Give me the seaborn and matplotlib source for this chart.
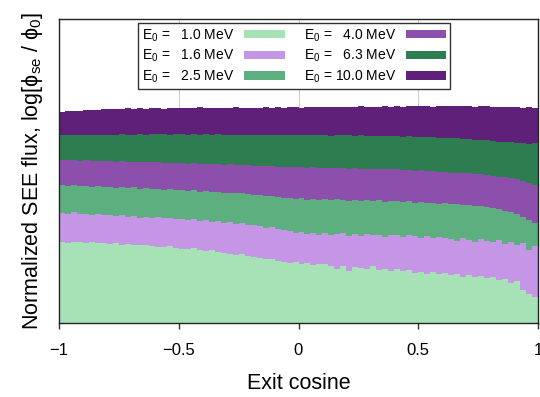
import numpy as np
import pandas as pd
import seaborn as sns
import matplotlib
matplotlib.use("Agg")
import matplotlib.pyplot as plt
from matplotlib.patches import Patch

sns.set_theme(style="ticks")
plt.rcParams['font.family'] = ['Liberation Sans', 'DejaVu Sans']
plt.rcParams['mathtext.fontset'] = 'custom'
plt.rcParams['mathtext.rm'] = 'Liberation Sans'
plt.rcParams['mathtext.it'] = 'Liberation Sans:italic'
plt.rcParams['text.color'] = 'black'
plt.rcParams['axes.labelcolor'] = 'black'
plt.rcParams['xtick.color'] = 'black'
plt.rcParams['ytick.color'] = 'black'

# ---- data ----
energies = ["1.0", "1.6", "2.5", "4.0", "6.3", "10.0"]
colors = ["#a7e2b6", "#c696e6", "#5eaf7f", "#8c4fab", "#2e7d50", "#5e2079"]
n_bins = 80

flux_1_0 = [2.66,2.64,2.67,2.65,2.63,2.66,2.64,2.62,
            2.60,2.63,2.58,2.61,2.57,2.55,2.58,2.53,
            2.51,2.49,2.52,2.47,
            2.45,2.43,2.46,2.40,2.37,2.41,2.33,2.30,2.28,
            2.24,2.27,2.20,2.17,
            2.13,2.09,2.12,2.03,2.00,
            1.97,2.00,1.93,1.97,1.90,1.94,1.95,1.88,1.79,
            1.86,1.70,1.84,1.80,1.77,1.88,1.74,1.79,1.72,
            1.76,1.70,1.73,1.64,1.69,1.62,1.67,1.60,
            1.64,1.57,1.62,1.52,1.58,1.50,1.55,1.48,
            1.52,1.40,1.46,1.30,1.38,
            1.10,0.95,0.85]
flux_1_6 = [3.62,3.58,3.64,3.57,3.60,3.55,3.58,3.54,
            3.56,3.51,3.54,3.49,3.52,3.47,3.50,3.46,
            3.48,3.44,3.46,3.42,
            3.43,3.39,3.41,3.36,3.38,3.33,3.35,3.30,3.32,
            3.27,3.29,3.24,3.22,
            3.18,3.14,3.16,3.09,3.06,
            3.02,2.95,3.00,2.92,2.97,2.90,2.95,2.88,2.93,
            2.96,2.87,2.92,2.85,2.94,2.88,2.91,2.84,2.90,
            2.88,2.82,2.90,2.85,2.80,2.87,2.78,2.84,
            2.81,2.76,2.70,2.79,2.74,2.68,2.75,2.71,
            2.66,2.72,2.60,2.68,2.55,
            2.64,2.40,2.52]
flux_2_5 = [4.54,4.52,4.55,4.50,4.51,4.48,4.50,4.47,
            4.48,4.45,4.47,4.44,4.46,4.42,4.45,4.41,
            4.42,4.39,4.40,4.37,
            4.36,4.34,4.36,4.32,4.33,4.30,4.31,4.28,4.29,
            4.26,4.27,4.24,4.22,
            4.20,4.17,4.18,4.14,4.12,
            4.10,4.08,4.11,4.06,4.09,4.05,4.08,4.04,4.07,
            4.05,4.02,4.06,4.01,4.04,4.00,4.03,3.99,4.02,
            4.00,3.97,4.00,3.95,3.98,3.94,3.96,3.93,
            3.94,3.90,3.92,3.87,3.89,3.84,3.86,3.81,
            3.78,3.74,3.70,3.64,3.58,
            3.48,3.40,3.30]
flux_4_0 = [5.36,5.35,5.37,5.34,5.35,5.33,5.34,5.33,
            5.33,5.31,5.32,5.30,5.31,5.29,5.30,5.28,
            5.28,5.27,5.27,5.25,
            5.26,5.24,5.25,5.23,5.24,5.22,5.23,5.21,5.22,
            5.20,5.21,5.19,5.18,
            5.17,5.16,5.17,5.14,5.14,
            5.13,5.12,5.13,5.11,5.12,5.10,5.11,5.09,5.10,
            5.10,5.08,5.09,5.07,5.08,5.06,5.07,5.05,5.06,
            5.05,5.03,5.04,5.01,5.02,4.99,5.00,4.98,
            4.97,4.95,4.95,4.92,4.92,4.89,4.89,4.86,
            4.85,4.81,4.80,4.76,4.73,
            4.68,4.62,4.54]
flux_6_3 = [6.18,6.19,6.17,6.19,6.18,6.20,6.18,6.19,
            6.20,6.19,6.21,6.19,6.20,6.22,6.20,6.21,
            6.21,6.22,6.20,6.22,
            6.21,6.20,6.22,6.20,6.21,6.19,6.21,6.20,6.19,
            6.20,6.18,6.20,6.19,
            6.18,6.20,6.18,6.19,6.17,
            6.18,6.19,6.17,6.18,6.19,6.17,6.18,6.16,6.18,
            6.17,6.18,6.16,6.17,6.15,6.16,6.15,6.16,6.14,
            6.15,6.13,6.14,6.12,6.13,6.11,6.12,6.10,
            6.10,6.08,6.08,6.05,6.06,6.03,6.03,6.01,
            6.00,5.97,5.96,5.94,5.93,
            5.92,5.90,5.91]
flux_10_0 = [6.95,6.96,6.98,6.97,7.00,7.02,7.01,7.04,
             7.03,7.05,7.04,7.06,7.05,7.07,7.05,7.06,
             7.07,7.05,7.08,7.06,
             7.07,7.08,7.06,7.09,7.07,7.08,7.06,7.08,7.07,
             7.09,7.07,7.08,7.07,
             7.08,7.10,7.08,7.09,7.07,
             7.09,7.10,7.08,7.11,7.09,7.10,7.12,7.09,7.11,
             7.10,7.12,7.10,7.13,7.11,7.12,7.10,7.13,7.12,
             7.14,7.12,7.13,7.15,7.13,7.14,7.12,7.15,
             7.13,7.14,7.15,7.13,7.14,7.12,7.13,7.14,
             7.12,7.11,7.12,7.10,7.11,
             7.08,7.09,7.06]

series = [flux_1_0, flux_1_6, flux_2_5, flux_4_0, flux_6_3, flux_10_0]
xticks = [-1, -0.5, 0, 0.5, 1]
xticklabels = ["\u22121", "\u22120.5", "0", "0.5", "1"]

bin_edges = np.linspace(-1, 1, n_bins + 1)
centers = 0.5 * (bin_edges[:-1] + bin_edges[1:])

fig = plt.figure(figsize=(5.4, 3.97), dpi=100)
ax = fig.add_axes([59/540, 1 - 323/397, 479/540, 304/397])

# draw from highest energy (largest) to lowest so every layer stays visible
for e, vals, c in reversed(list(zip(energies, series, colors))):
    df = pd.DataFrame({"cosine": centers, "flux": np.asarray(vals, float)})
    sns.histplot(data=df, x="cosine", weights="flux", bins=n_bins,
                 binrange=(-1, 1), element="step", fill=True, color=c,
                 alpha=1, linewidth=0, edgecolor="none", ax=ax, zorder=2)

ax.set_xlim(-1, 1)
ax.set_ylim(0, 10)
ax.set_yticks([])
ax.set_xticks(xticks)
ax.set_xticklabels(xticklabels, fontsize=12)
ax.tick_params(axis='x', direction='out', length=4, width=1, color='#333333', pad=10.5)
ax.grid(axis='x', color='#d0d0d0', linewidth=0.8)
ax.set_axisbelow(True)
for s in ax.spines.values():
    s.set_color('#222222')
    s.set_linewidth(1.0)

ax.set_xlabel("Exit cosine", fontsize=15.5, labelpad=11)
ax.set_ylabel("Normalized SEE flux, log[\u03d5$_{\\rm se}$ / \u03d5$_0$]", fontsize=15.5, labelpad=10)

labels = []
for e in energies:
    if len(e) == 3:
        labels.append("E$_0$ =   " + e + " MeV")
    else:
        labels.append("E$_0$ = " + e + " MeV")
handles = [Patch(facecolor=c, edgecolor='none') for c in colors]
leg = ax.legend(handles, labels, ncol=2, loc='upper left',
                bbox_to_anchor=(0.165, 0.987), borderaxespad=0,
                fontsize=10, markerfirst=False, handlelength=2.9,
                handleheight=0.55, handletextpad=0.7, columnspacing=1.4,
                labelspacing=0.3, borderpad=0.3, fancybox=False,
                framealpha=1, edgecolor='#333333')
leg.get_frame().set_linewidth(1.0)

fig.savefig("out.png", dpi=100)
